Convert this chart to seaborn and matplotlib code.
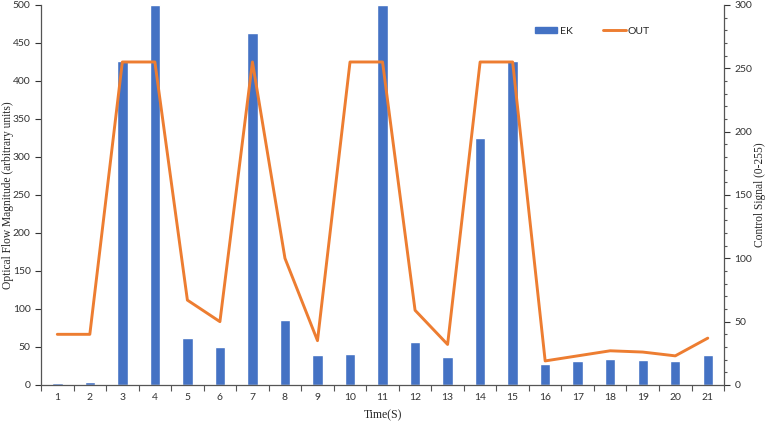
import numpy as np
import pandas as pd
import matplotlib
matplotlib.use("Agg")
import matplotlib.pyplot as plt
import seaborn as sns
from matplotlib.ticker import MultipleLocator, FixedLocator
from matplotlib.lines import Line2D
from matplotlib.patches import Patch

# data
times = list(range(1, 22))
ek = [2, 4, 426, 500, 62, 50, 463, 85, 39, 41, 500, 57, 37, 325, 426, 27, 31, 34, 33, 31, 40]
out = [40, 40, 255, 255, 67, 50, 255, 100, 35, 255, 255, 59, 32, 255, 255, 19, 23, 27, 26, 23, 37]

bar_color = "#4472C4"
line_color = "#ED7D31"

sns.set_style("white")
plt.rcParams["font.family"] = ["Lato", "DejaVu Sans"]

df = pd.DataFrame({"time": times, "EK": ek, "OUT": out})
df["pos"] = np.arange(len(df))

fig = plt.figure(figsize=(7.67, 4.22), dpi=100)
ax = fig.add_axes([0.0535, 0.0877, 0.8905, 0.9005])

sns.barplot(data=df, x="time", y="EK", color=bar_color, width=0.32,
            saturation=1, ax=ax)
ax.set_ylim(0, 500)
ax.set_xlim(-0.5, len(times) - 0.5)
ax.yaxis.set_major_locator(MultipleLocator(50))

ax2 = ax.twinx()
sns.lineplot(data=df, x="pos", y="OUT", color=line_color, linewidth=2.1, ax=ax2)
ax2.set_ylim(0, 300)
ax2.set_xlim(-0.5, len(times) - 0.5)
ax2.yaxis.set_major_locator(MultipleLocator(50))
ax2.yaxis.set_minor_locator(MultipleLocator(10))

# x tick marks at category boundaries, labels at centers
ax.set_xticks(df["pos"])
ax.set_xticklabels([str(t) for t in times])
ax.xaxis.set_minor_locator(FixedLocator(np.arange(-0.5, len(times), 1.0)))
ax.tick_params(axis="x", which="major", length=0, labelsize=7.5, pad=6, colors="#333333")
ax.tick_params(axis="x", which="minor", length=4, width=0.8, color="#555555", bottom=True)
ax.tick_params(axis="y", which="major", length=4, width=0.8, left=True, labelsize=7.5,
               colors="#333333")
ax2.tick_params(axis="y", which="major", length=4, width=0.8, right=True, labelsize=7.5,
                colors="#333333")
ax2.tick_params(axis="y", which="minor", length=2.5, width=0.8, right=True, color="#555555")

for a in (ax, ax2):
    a.spines["top"].set_visible(False)
    for s in ("left", "right", "bottom"):
        a.spines[s].set_color("#555555")
        a.spines[s].set_linewidth(0.9)
ax.spines["right"].set_visible(False)
ax2.spines["left"].set_visible(False)
ax2.spines["bottom"].set_visible(False)

serif = ["Liberation Serif", "DejaVu Serif"]
ax.set_xlabel("Time(S)", family=serif, fontsize=8.5)
ax.xaxis.set_label_coords(0.5, -0.065)
ax.set_ylabel("Optical Flow Magnitude (arbitrary units)", family=serif, fontsize=8.3)
ax.yaxis.set_label_coords(-0.04, 0.5)
ax2.set_ylabel("Control Signal (0-255)", family=serif, fontsize=8.3, rotation=90)
ax2.yaxis.set_label_coords(1.044, 0.5)

handles = [Patch(color=bar_color, label="EK"),
           Line2D([0], [0], color=line_color, linewidth=2.1, label="OUT")]
ax2.legend(handles=handles, loc="upper right", bbox_to_anchor=(0.905, 0.968), ncol=2,
           frameon=False, fontsize=7.5, handlelength=2.2, handleheight=0.5,
           columnspacing=2.9, handletextpad=0.2)

fig.savefig("out.png", dpi=100)
